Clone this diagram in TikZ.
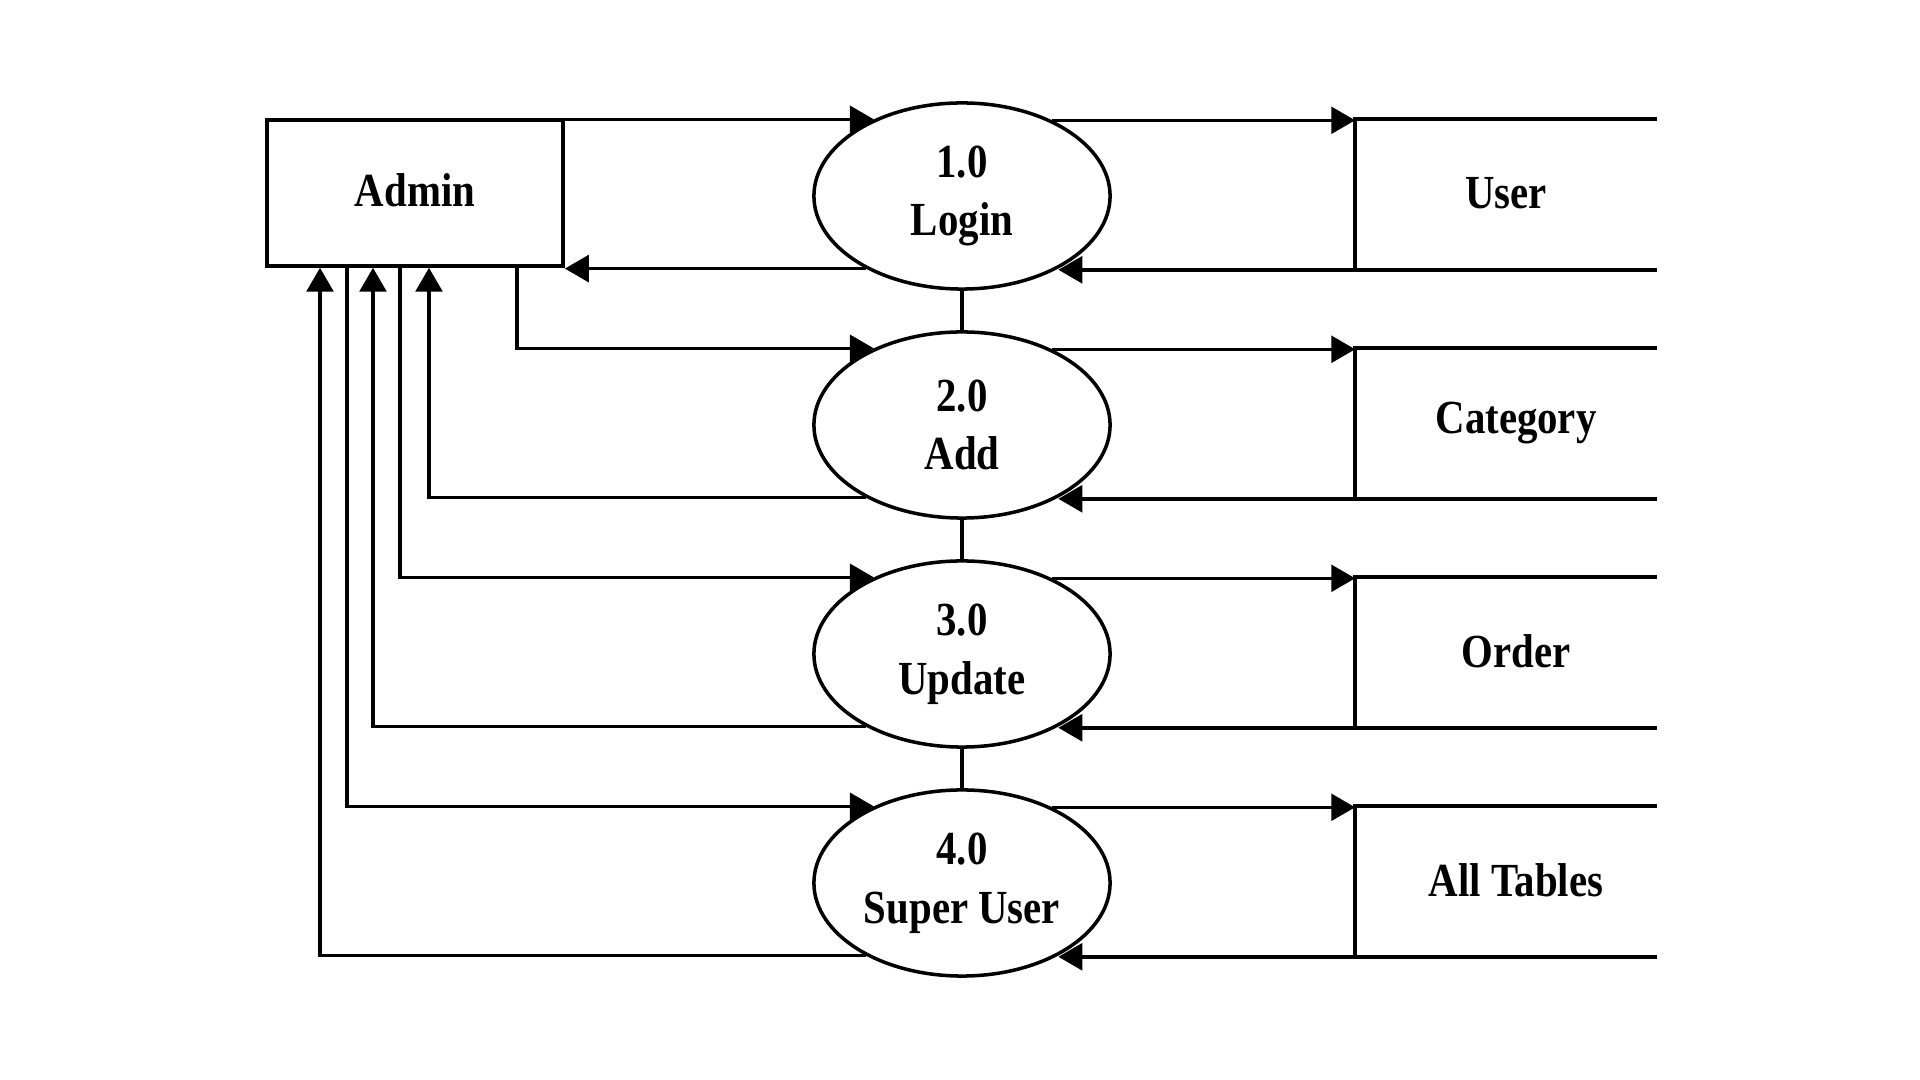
\documentclass[tikz,border=0pt]{standalone}
\usepackage{fontspec}
\setmainfont{Liberation Serif}[FakeStretch=0.86]
\usetikzlibrary{arrows.meta,shapes.geometric}
\begin{document}
\begin{tikzpicture}[x=0.01cm,y=-0.01cm,line width=1pt,
  lbl/.style={font=\fontsize{13.5}{16.7}\selectfont\bfseries, align=center},
  entity/.style={lbl, draw, minimum width=2.96cm, minimum height=1.46cm, inner sep=0pt},
  process/.style={lbl, draw, ellipse, minimum width=2.96cm, minimum height=1.86cm, inner sep=0pt},
  datastore/.style={lbl, minimum width=2.98cm, minimum height=1.47cm, inner sep=0pt},
  flow/.style={-{Triangle[length=6.8pt,width=7.6pt]}}]
\useasboundingbox (0,0) rectangle (1920,1080);

% external entity
\node[entity] (admin) at (415,193) {\raisebox{1.6pt}{Admin}};

% processes
\node[process] (p1) at (962,196) {\raisebox{0.6pt}{1.0}\\\raisebox{0.6pt}{Login}};
\node[process] (p2) at (962,425) {2.0\\Add};
\node[process] (p3) at (962,654) {3.0\\Update};
\node[process] (p4) at (962,883) {4.0\\Super User};

% data stores
\node[datastore] (s1) at (1506,194.5) {\raisebox{1pt}{User}};
\node[datastore] (s2) at (1506,423.5) {\hspace*{0.2cm}Category};
\node[datastore] (s3) at (1506,652.5) {\hspace*{0.2cm}\raisebox{1pt}{Order}};
\node[datastore] (s4) at (1506,881.5) {\hspace*{0.2cm}\raisebox{1pt}{All Tables}};
\foreach \s in {s1,s2,s3,s4}
  \draw (\s.north east) -- (\s.north west) -- (\s.south west) -- (\s.south east);

% links between processes
\draw (p1.south) -- (p2.north);
\draw (p2.south) -- (p3.north);
\draw (p3.south) -- (p4.north);

% columns of the admin-side flows
\coordinate (o2) at (517,0);
\coordinate (i2) at (429,0);
\coordinate (o3) at (400,0);
\coordinate (i3) at (373,0);
\coordinate (o4) at (347,0);
\coordinate (i4) at (320,0);

% admin <-> processes
\draw[flow] (p1.139.4 -| admin.east) -- (p1.139.4);
\draw[flow] (p1.217.5) -- (p1.217.5 -| admin.east);
\draw[flow] (admin.south -| o2) |- (p2.139.4);
\draw[flow] (p2.217.5) -| (admin.south -| i2);
\draw[flow] (admin.south -| o3) |- (p3.139.4);
\draw[flow] (p3.217.5) -| (admin.south -| i3);
\draw[flow] (admin.south -| o4) |- (p4.139.4);
\draw[flow] (p4.217.5) -| (admin.south -| i4);

% processes <-> data stores
\foreach \k in {1,2,3,4}{
  \draw[flow] (p\k.40.6) -- (p\k.40.6 -| s\k.west);
  \draw[flow] (s\k.south west) -- (s\k.south west -| p\k.-37.5);
}
\end{tikzpicture}
\end{document}
